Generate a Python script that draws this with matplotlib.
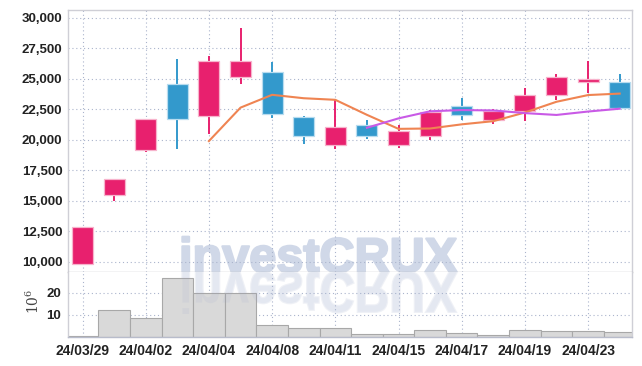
import numpy as np
import matplotlib
matplotlib.use("Agg")
import matplotlib.pyplot as plt
import matplotlib.patheffects as pe
from matplotlib.textpath import TextPath
from matplotlib.patches import PathPatch
from matplotlib.font_manager import FontProperties
from matplotlib.transforms import Affine2D, IdentityTransform
from matplotlib.ticker import FuncFormatter

plt.rcParams["font.family"] = ["Liberation Sans", "DejaVu Sans"]
plt.rcParams["mathtext.fontset"] = "dejavuserif"

# 일봉 데이터 (원)
dates = ["24/03/29", "24/04/01", "24/04/02", "24/04/03", "24/04/04", "24/04/05",
         "24/04/08", "24/04/09", "24/04/11", "24/04/12", "24/04/15", "24/04/16",
         "24/04/17", "24/04/18", "24/04/19", "24/04/22", "24/04/23", "24/04/24"]
open_ = [9870, 15480, 19160, 24600, 22000, 25150, 25550, 21880, 19570,
         21200, 19570, 20330, 22750, 21670, 22350, 23650, 24740, 24740]
high = [12890, 16770, 21750, 26650, 26850, 29200, 26400, 22000, 23250,
        21670, 21200, 22480, 23430, 22570, 24280, 25370, 26450, 25430]
low = [9870, 15020, 19020, 19300, 20500, 24550, 21830, 19650, 19240,
       20110, 19380, 19980, 21670, 21340, 21530, 23300, 23870, 22650]
close = [12890, 16770, 21750, 21700, 26450, 26500, 22100, 20330, 21060,
         20330, 20710, 22290, 22020, 22350, 23700, 25200, 25020, 22650]
# 이동평균
ma5 = [np.nan, np.nan, np.nan, np.nan, 19910, 22650, 23700, 23420, 23290,
       22060, 20910, 20940, 21280, 21540, 22250, 23130, 23680, 23800]
ma10 = [np.nan] * 9 + [21000, 21770, 22350, 22450, 22420, 22200, 22050, 22330, 22560]
# 거래량 (백만 주)
volume = [0.45, 12.2, 8.5, 26.5, 19.7, 19.7, 5.5, 4.0, 4.0,
          1.3, 1.3, 3.1, 1.9, 0.7, 3.1, 2.7, 2.7, 2.2]

RED = "#e8206e"
BLUE = "#3399cc"
x = np.arange(len(dates))
o = np.array(open_)
c = np.array(close)
up = c >= o
cols = [RED if u else BLUE for u in up]
edges = ["#f7b3cc" if u else "#b8dcef" for u in up]

W, H = 642, 366
fig = plt.figure(figsize=(W / 100, H / 100), dpi=100)
ax = fig.add_axes([68 / W, 1 - 272 / H, (632 - 68) / W, (272 - 10) / H])
axv = fig.add_axes([68 / W, 1 - 337 / H, (632 - 68) / W, (337 - 272) / H], sharex=ax)

grid_kw = dict(ls=(0, (1, 2.5)), color="#aab4cc", lw=0.8)

# 캔들
ax.vlines(x, low, high, color=cols, lw=1.4, zorder=2)
ax.bar(x, np.abs(c - o), bottom=np.minimum(o, c), width=0.66, color=cols,
       edgecolor=edges, lw=0.9, zorder=3)
ax.plot(x, ma5, color="#ef8452", lw=1.5, zorder=4)
ax.plot(x, ma10, color="#c95ae6", lw=1.5, zorder=4)

ax.set_xlim(-0.46, 17.39)
ax.set_ylim(9180, 30650)
ax.set_yticks([10000, 12500, 15000, 17500, 20000, 22500, 25000, 27500, 30000])
ax.yaxis.set_major_formatter(FuncFormatter(lambda v, p: f"{v:,.0f}"))
ax.set_xticks(x[::2])
ax.grid(True, **grid_kw)
ax.set_axisbelow(True)
ax.tick_params(axis="x", labelbottom=False, length=0)
ax.tick_params(axis="y", length=0, pad=4, labelsize=9.5, labelcolor="#222222")

# 거래량
axv.bar(x, volume, width=1.0, color="#d9d9d9", edgecolor="#a8a8a8", lw=0.8, zorder=2)
axv.set_ylim(0, 29.3)
axv.set_yticks([10, 20])
axv.grid(True, **grid_kw)
axv.set_axisbelow(True)
axv.set_xticks(x[::2])
axv.set_xticklabels(dates[::2])
axv.tick_params(axis="x", length=0, pad=5, labelsize=10, labelcolor="#222222")
axv.tick_params(axis="y", length=0, pad=5, labelsize=9.5, labelcolor="#222222")

for lbl in ax.get_yticklabels() + axv.get_yticklabels() + axv.get_xticklabels():
    lbl.set_fontweight("bold")

for a in (ax, axv):
    for s in a.spines.values():
        s.set_color("#cfcfd6")
        s.set_linewidth(1.0)
ax.spines["bottom"].set_color("#c4c4c8")
axv.spines["top"].set_visible(False)
axv.spines["bottom"].set_color("#b8bccb")

fig.text(33 / W, 1 - 301 / H, r"$10^6$", rotation=90, ha="center", va="center",
         fontsize=10, color="#444444")

# 워터마크 (본문 + 반사), 격자 아래에 그림
main_c = "#d0d8e8"
refl_c = "#eff1f6"
wm_prop = FontProperties(family="Liberation Sans", weight="bold", size=35)
wm = ax.text(179, H - 272, "investCRUX", transform=IdentityTransform(),
             fontproperties=wm_prop, color=main_c, ha="left", va="baseline",
             zorder=0.4, clip_on=False,
             path_effects=[pe.withStroke(linewidth=1.6, foreground=main_c)])
renderer = fig.canvas.get_renderer()
wm_w = wm.get_window_extent(renderer).width
wm_size = 35 * (278 / wm_w)
wm.set_fontsize(wm_size)

tp = TextPath((0, 0), "investCRUX", size=wm_size * 100 / 72, prop=wm_prop)
sy = 40 / tp.get_extents().y1
refl = Affine2D().scale(1, -sy * 1.05).translate(179, H - 272).transform_path(tp)
axv.add_artist(PathPatch(refl, facecolor=refl_c, edgecolor=refl_c, lw=1.6,
                         transform=IdentityTransform(), zorder=0.4))
fig.add_artist(PathPatch(refl, facecolor="#8c9dca", alpha=0.1, lw=0,
                         transform=IdentityTransform(), zorder=3))

fig.savefig("out.png", dpi=100)
